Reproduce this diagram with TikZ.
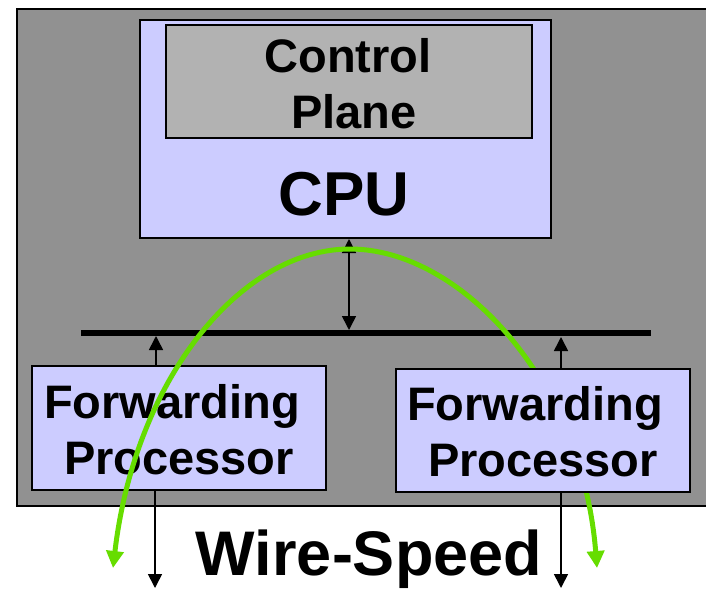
\documentclass[tikz,border=0pt]{standalone}
\usepackage{fontspec}
\setmainfont{Liberation Sans}
\usetikzlibrary{arrows.meta,calc}
\definecolor{bggray}{HTML}{919191}
\definecolor{lav}{HTML}{CCCCFF}
\definecolor{cpgray}{HTML}{B2B2B2}
\definecolor{wiregreen}{HTML}{66DD00}
\begin{document}
\begin{tikzpicture}[x=1pt,y=-1pt,
  box/.style={draw=black,line width=2pt,inner sep=0pt,anchor=north west},
  lbl/.style={font=\bfseries\fontsize{47}{56}\selectfont,anchor=base,inner sep=0pt},
  biglbl/.style={font=\bfseries\fontsize{62}{70}\selectfont,anchor=base,inner sep=0pt},
  link/.style={line width=1.6pt,-{Triangle[length=14pt,width=14pt]}},
  bilink/.style={line width=1.6pt,{Triangle[length=14pt,width=14pt]}-{Triangle[length=14pt,width=14pt]}},
  wirepath/.style={draw=wiregreen,line width=5pt,{Triangle[length=17pt,width=17pt]}-{Triangle[length=17pt,width=17pt]}},
  buswire/.style={line width=6pt}
]
\useasboundingbox (0,0) rectangle (706,589);
% chassis
\node[box,fill=bggray,minimum width=700pt,minimum height=497pt] (chassis) at (16,8) {};
% CPU
\node[box,fill=lav,minimum width=411pt,minimum height=218pt] (cpu) at (139,19) {};
\node[box,fill=cpgray,minimum width=366pt,minimum height=113pt] (cp) at (165,24) {};
\node[lbl] (cpt1) at (348,72) {Control};
\node[lbl] (cpt2) at (354,128) {Plane};
\node[biglbl] (cput) at (344,215) {CPU};
% bus
\coordinate (busL) at (81,333);
\coordinate (busR) at (651,333);
\draw[buswire] (busL) -- (busR);
% left forwarding processor
\node[box,fill=lav,minimum width=294pt,minimum height=124pt] (fpL) at (31,365) {};
\coordinate (pC) at (349,330);
\coordinate (pL) at (156,336);
\coordinate (pR) at (561,337);
\coordinate (oL) at (155,588);
\coordinate (oR) at (561,588);
\draw[bilink] (cpu.south -| pC) -- (pC);
\draw[link] (fpL.north -| pL) -- (pL);
\draw[link] (fpL.south -| oL) -- (oL);
\node[lbl] (fl1) at (172,418) {Forwarding};
\node[lbl] (fl2) at (179,474) {Processor};
% green wire-speed path
\coordinate (gL) at (113,568);
\coordinate (gR) at (597,568);
\coordinate (gTop) at (350,249);
\draw[wirepath] (gR) .. controls (582,380) and (460,249) .. (gTop) .. controls (240,249) and (135,380) .. (gL);
% right forwarding processor, on top of the green path
\node[box,fill=lav,minimum width=294pt,minimum height=123pt] (fpR) at (395,368) {};
\draw[link] (fpR.north -| pR) -- (pR);
\draw[link] (fpR.south -| oR) -- (oR);
\node[lbl] (fr1) at (535,420) {Forwarding};
\node[lbl] (fr2) at (543,476) {Processor};
% label
\node[font=\bfseries\fontsize{63}{70}\selectfont,anchor=base,inner sep=0pt] (ws) at (369,575) {Wire-Speed};
\end{tikzpicture}
\end{document}
